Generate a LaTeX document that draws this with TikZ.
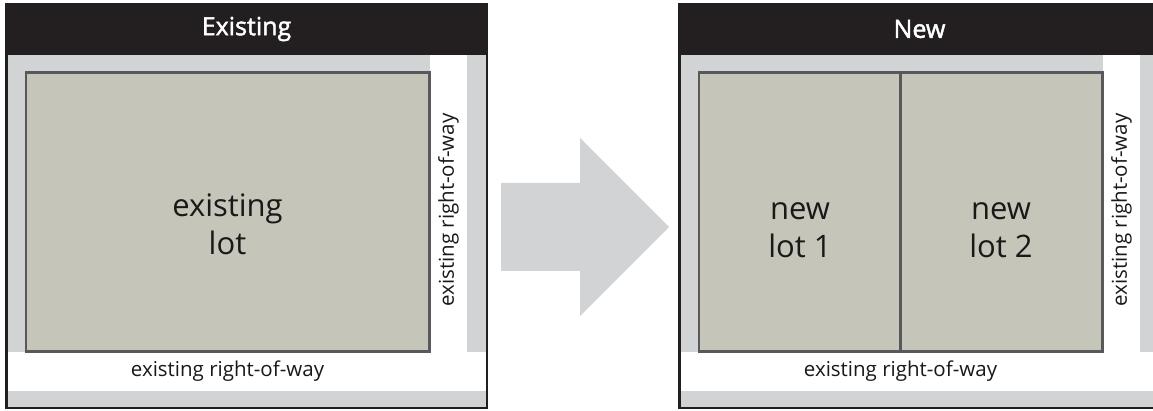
\documentclass[tikz,border=0pt]{standalone}
\usepackage{fontspec}
\setmainfont{Open Sans}
\newfontfamily\headfont{Open Sans}[FakeBold=1.8]
\definecolor{hdr}{HTML}{231F20}
\definecolor{rowgrey}{HTML}{D1D3D4}
\definecolor{lotfill}{HTML}{C5C6B9}
\definecolor{lotline}{HTML}{58595B}
\tikzset{
  header/.style={fill=hdr},
  frame/.style={draw=hdr, line width=2.5pt},
  road/.style={fill=rowgrey},
  lotbox/.style={fill=lotfill, draw=lotline, line width=2.5pt},
  headtext/.style={text=white, font=\headfont\fontsize{25}{29}\selectfont, inner sep=0pt},
  lottext/.style={text=black!90, font=\fontsize{31}{38}\selectfont, align=center, inner sep=0pt},
  rowtext/.style={text=black!90, font=\fontsize{20.5}{24}\selectfont, inner sep=0pt},
  bigarrow/.style={fill=rowgrey}
}
\begin{document}
\begin{tikzpicture}[x=1pt, y=-1pt]
\clip (0,0) rectangle (1153,411);
\fill[white] (0,0) rectangle (1153,411);
% ---------- left panel ----------
\fill[road] (8,55) rectangle (430,352);
\fill[road] (467,55) rectangle (486,352);
\fill[road] (8,391) rectangle (486,407);
\draw[lotbox] (26,72.5) rectangle (429.5,351.5);
\fill[header] (5,3) rectangle (488,55);
\draw[frame] (6.25,4.25) rectangle (486.75,407.75);
\node[headtext] (hl) at (246.5,29) {Existing};
\node[lottext] (lotA) at (227.5,224) {existing\\lot};
\node[rowtext] (rowAb) at (227.5,371) {existing right-of-way};
\node[rowtext, rotate=90] (rowAr) at (448.5,210) {existing right-of-way};
% ---------- arrow ----------
\fill[bigarrow] (501,183) -- (580,183) -- (580,138) -- (669,227) -- (580,316) -- (580,271) -- (501,271) -- cycle;
% ---------- right panel ----------
\fill[road] (681,55) rectangle (1103,352);
\fill[road] (1140,55) rectangle (1159,352);
\fill[road] (681,391) rectangle (1159,407);
\draw[lotbox] (699,72.5) rectangle (1102.5,351.5);
\draw[lotline, line width=2.5pt] (900.5,72.5) -- (900.5,351.5);
\fill[header] (678,3) rectangle (1161,55);
\draw[frame] (679.25,4.25) rectangle (1159.75,407.75);
\node[headtext] (hr) at (919.5,29) {New};
\node[lottext] (lot1) at (800,230) {new\\lot 1};
\node[lottext] (lot2) at (1001,230) {new\\lot 2};
\node[rowtext] (rowBb) at (900.5,371) {existing right-of-way};
\node[rowtext, rotate=90] (rowBr) at (1121.5,210) {existing right-of-way};
\end{tikzpicture}
\end{document}
